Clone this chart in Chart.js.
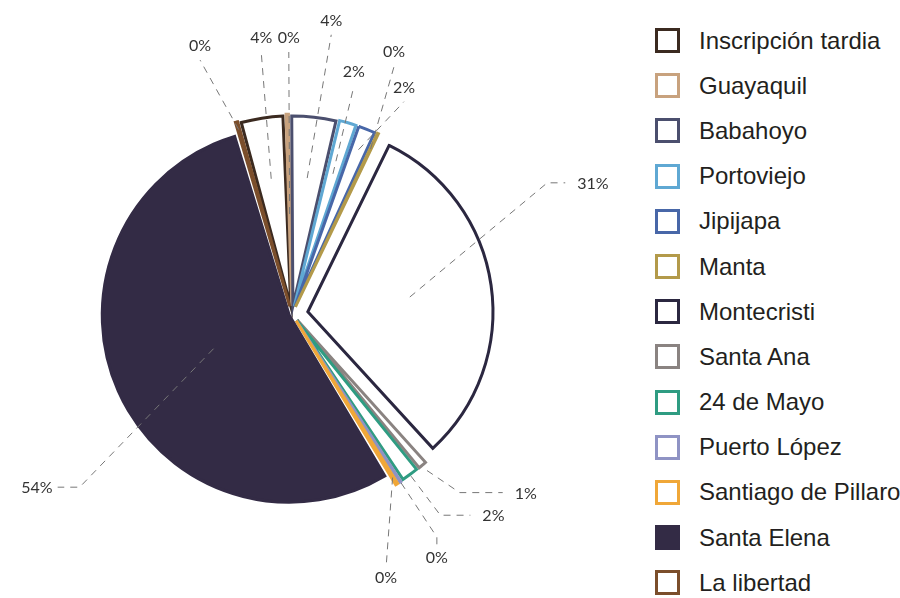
<!DOCTYPE html>
<html>
<head>
<meta charset="utf-8">
<title>Inscripciones por lugar</title>
<script src="https://cdn.jsdelivr.net/npm/chart.js@4.4.0/dist/chart.umd.min.js"></script>
<style>
  html, body { margin: 0; padding: 0; background: #fff; }
  #wrap { position: relative; width: 900px; height: 598px; overflow: hidden; }
  #pie { position: absolute; left: 0; top: 0; }
  #legend {
    position: absolute; left: 655px; top: 18px;
    margin: 0; padding: 0; list-style: none;
    font-family: "Liberation Sans", Arial, Helvetica, sans-serif;
    font-size: 24px; color: #231f20;
  }
  #legend li { height: 45.2px; display: flex; align-items: center; white-space: nowrap; }
  #legend .box {
    width: 25px; height: 25px; box-sizing: border-box;
    border: 3px solid; margin-right: 19px; flex: none;
  }
</style>
</head>
<body>
<div id="wrap">
  <canvas id="pie" width="640" height="598"></canvas>
  <ul id="legend"></ul>
</div>
<script>
// places and their share of inscriptions (%)
const places = ['Inscripción tardia', 'Guayaquil', 'Babahoyo', 'Portoviejo', 'Jipijapa', 'Manta',
  'Montecristi', 'Santa Ana', '24 de Mayo', 'Puerto López', 'Santiago de Pillaro', 'Santa Elena', 'La libertad'];
const shares = [3.7, 0.4, 3.9, 1.6, 1.6, 0.3, 31.0, 0.9, 1.6, 0.3, 0.4, 53.9, 0.4];

const edgeColors = ['#3b2a20', '#c8a27e', '#4b4f6e', '#5fa8d3', '#4867a8', '#b39a4a',
  '#2b2740', '#8a8381', '#2f9c82', '#8f93c4', '#f0a738', '#332b45', '#7b4e2b'];
const fillColors = edgeColors.map((c, i) => places[i] === 'Santa Elena' ? c : '#ffffff');

// how far each slice is pulled out (px)
const explode = [8, 8, 8, 8, 8, 8, 16, 8, 8, 8, 8, 3, 8];

// leader lines: start (fraction of radius), end [deg clockwise from top, px from centre],
// extra run after the end and where the text sits
const leaderFrom = [0.7, 0.5, 0.7, 0.75, 0.92, 0.95, 0.56, 1.08, 1.05, 1.05, 1.0, 0.45, 1.0];
const leaderTo = [[-6.7, 264], [-0.7, 262], [8.0, 282], [15.2, 236], [27.8, 240], [22.4, 268],
  [62.8, 287], [136.8, 245], [143.6, 250], [147.0, 266], [159.6, 270], [230.8, 274], [-19.9, 270]];
const leaderRun = [0, 0, 0, 0, 0, 0, 18, 43, 30, 10, 0, -22, 0];
const labelSide = ['above', 'above', 'above', 'above', 'above', 'above',
  'right', 'right', 'right', 'below', 'below', 'left', 'above'];

const leaderLabels = {
  id: 'leaderLabels',
  afterDatasetsDraw(chart) {
    const ctx = chart.ctx;
    const arcs = chart.getDatasetMeta(0).data;
    const total = shares.reduce((a, b) => a + b, 0);
    ctx.save();
    ctx.strokeStyle = '#777777';
    ctx.lineWidth = 1;
    ctx.setLineDash([7, 6]);
    ctx.font = '16px Lato, "Open Sans", sans-serif';
    ctx.fillStyle = '#333333';
    arcs.forEach((arc, i) => {
      const mid = (arc.startAngle + arc.endAngle) / 2;
      const r = explode[i] + arc.outerRadius * leaderFrom[i];
      const sx = arc.x + Math.cos(mid) * r;
      const sy = arc.y + Math.sin(mid) * r;
      const a = (leaderTo[i][0] - 90) * Math.PI / 180;
      const ex = arc.x + Math.cos(a) * leaderTo[i][1];
      const ey = arc.y + Math.sin(a) * leaderTo[i][1];
      const run = leaderRun[i];
      const side = labelSide[i];
      ctx.beginPath();
      ctx.moveTo(sx, sy);
      ctx.lineTo(ex, ey);
      if (side === 'right' || side === 'left') ctx.lineTo(ex + run, ey);
      if (side === 'below') ctx.lineTo(ex, ey + run);
      ctx.stroke();

      const txt = Math.round(shares[i] / total * 100) + '%';
      if (side === 'above') {
        ctx.textAlign = 'center'; ctx.textBaseline = 'bottom';
        ctx.fillText(txt, ex, ey - 6);
      } else if (side === 'below') {
        ctx.textAlign = 'center'; ctx.textBaseline = 'top';
        ctx.fillText(txt, ex, ey + run + 3);
      } else if (side === 'right') {
        ctx.textAlign = 'left'; ctx.textBaseline = 'middle';
        ctx.fillText(txt, ex + run + 12, ey + 1);
      } else {
        ctx.textAlign = 'right'; ctx.textBaseline = 'middle';
        ctx.fillText(txt, ex + run - 5, ey + 1);
      }
    });
    ctx.restore();
  }
};

// legend written as html next to the canvas
const htmlLegend = {
  id: 'htmlLegend',
  afterUpdate(chart) {
    const ul = document.getElementById('legend');
    ul.innerHTML = '';
    const items = chart.options.plugins.legend.labels.generateLabels(chart);
    items.forEach(item => {
      const li = document.createElement('li');
      const box = document.createElement('span');
      box.className = 'box';
      box.style.background = item.fillStyle;
      box.style.borderColor = item.strokeStyle;
      const label = document.createElement('span');
      label.textContent = item.text;
      li.appendChild(box);
      li.appendChild(label);
      ul.appendChild(li);
    });
  }
};

const data = {
  labels: places,
  datasets: [{
    data: shares,
    backgroundColor: fillColors,
    borderColor: edgeColors,
    borderWidth: 3,
    borderJoinStyle: 'miter',
    offset: ctx => explode[ctx.dataIndex] * 4,
    hoverOffset: 0,
    rotation: -15.4,
    radius: 184
  }]
};

const config = {
  type: 'pie',
  data: data,
  options: {
    responsive: false,
    animation: false,
    devicePixelRatio: 1,
    layout: {
      padding: { left: 0, right: 56, top: 30, bottom: 0 }
    },
    plugins: {
      legend: { display: false },
      tooltip: { enabled: false }
    }
  },
  plugins: [htmlLegend, leaderLabels]
};

var myChart = new Chart(document.getElementById('pie'), config);
</script>
</body>
</html>
